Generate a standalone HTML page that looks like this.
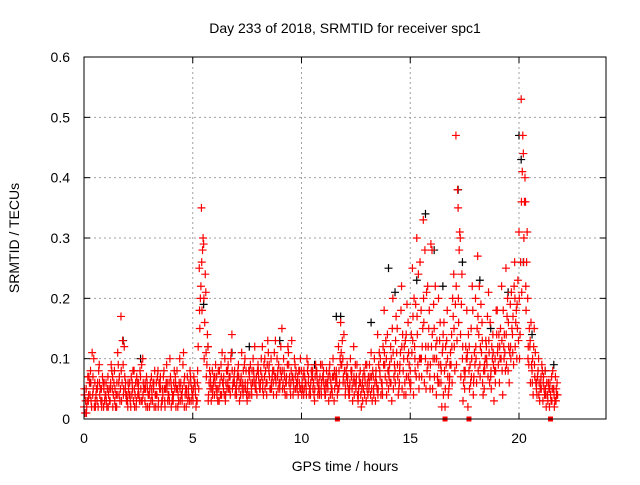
<!DOCTYPE html>
<html><head><meta charset="utf-8"><style>
body{margin:0;background:#fff}
svg text{font-family:"Liberation Sans",sans-serif;font-size:14px;fill:#000}
</style></head><body>
<svg id="chart" width="640" height="480" viewBox="0 0 640 480" xmlns="http://www.w3.org/2000/svg">
<text x="345" y="33" text-anchor="middle">Day 233 of 2018, SRMTID for receiver spc1</text>
<text transform="translate(19,238) rotate(-90)" text-anchor="middle">SRMTID / TECUs</text>
<text x="345" y="471" text-anchor="middle">GPS time / hours</text>
<g id="grid"></g><g id="ticks"></g><g id="black"></g><g id="red"></g>
<rect x="84" y="57" width="522" height="362" fill="none" stroke="#000" stroke-width="1"/>
</svg>
<script>
const xTicks=[0,5,10,15,20];
const yTicks=[0,0.1,0.2,0.3,0.4,0.5,0.6];
const yTickLabels=["0","0.1","0.2","0.3","0.4","0.5","0.6"];
const red1=[0.02,0.05,0.03,0.08,0.04,0.06,0.03,0.09,0.05,0.02,
0.04,0.07,0.03,0.05,0.08,0.02,0.06,0.17,0.09,0.05,
0.03,0.06,0.04,0.08,0.02,0.05,0.07,0.10,0.03,0.06,
0.04,0.07,0.05,0.02,0.08,0.06,0.03,0.05,0.09,0.04,
0.06,0.03,0.07,0.05,0.10,0.04,0.06,0.02,0.05,0.07,
0.04,0.06,0.03,0.25,0.35,0.29,0.21,0.12,0.05,0.08,
0.04,0.07,0.05,0.09,0.06,0.03,0.08,0.05,0.14,0.07,
0.05,0.09,0.04,0.06,0.10,0.03,0.07,0.05,0.08,0.06,
0.09,0.05,0.12,0.07,0.04,0.08,0.10,0.06,0.13,0.07,
0.05,0.15,0.08,0.06,0.11,0.04,0.07,0.09,0.05,0.06,
0.08,0.04,0.06,0.09,0.05,0.07,0.03,0.08,0.06,0.05,
0.07,0.04,0.06,0.09,0.05,0.03,0.08,0.12,0.16,0.10,
0.06,0.09,0.04,0.07,0.12,0.05,0.03,0.08,0.06,0.04,
0.09,0.05,0.11,0.07,0.03,0.14,0.08,0.06,0.18,0.10,
0.05,0.12,0.20,0.08,0.15,0.06,0.22,0.10,0.04,0.16,
0.08,0.25,0.12,0.30,0.05,0.18,0.33,0.10,0.22,0.07,
0.28,0.15,0.04,0.20,0.09,0.12,0.02,0.18,0.06,0.14,
0.24,0.47,0.35,0.30,0.10,0.05,0.18,0.08,0.15,0.04,
0.20,0.27,0.09,0.16,0.05,0.12,0.21,0.07,0.14,0.10,
0.18,0.06,0.22,0.12,0.25,0.08,0.19,0.14,0.26,0.10,
0.31,0.53,0.44,0.36,0.20,0.12,0.08,0.15,0.05,0.10,
0.06,0.03,0.08,0.04,0.02,0.07,0.05,0.03];
const red2=[0.01,0.03,0.06,0.02,0.10,0.04,0.02,0.05,0.07,0.03,
0.02,0.05,0.09,0.04,0.02,0.11,0.03,0.06,0.12,0.03,
0.05,0.02,0.08,0.04,0.06,0.03,0.09,0.05,0.02,0.04,
0.06,0.03,0.08,0.04,0.06,0.02,0.07,0.05,0.03,0.10,
0.03,0.08,0.05,0.03,0.06,0.09,0.04,0.07,0.03,0.05,
0.07,0.02,0.12,0.20,0.28,0.16,0.09,0.06,0.03,0.06,
0.09,0.03,0.06,0.11,0.04,0.08,0.05,0.10,0.06,0.04,
0.07,0.03,0.11,0.05,0.08,0.04,0.09,0.06,0.12,0.04,
0.06,0.10,0.04,0.08,0.13,0.05,0.07,0.11,0.04,0.09,
0.12,0.06,0.04,0.09,0.07,0.13,0.05,0.08,0.04,0.10,
0.05,0.07,0.10,0.04,0.08,0.06,0.09,0.04,0.07,0.09,
0.05,0.08,0.03,0.06,0.10,0.07,0.04,0.06,0.09,0.14,
0.08,0.05,0.10,0.03,0.06,0.09,0.07,0.02,0.05,0.09,
0.04,0.07,0.03,0.10,0.06,0.09,0.04,0.12,0.07,0.14,
0.09,0.03,0.07,0.17,0.04,0.11,0.14,0.06,0.19,0.09,
0.14,0.04,0.19,0.09,0.26,0.12,0.06,0.21,0.15,0.29,
0.10,0.22,0.07,0.13,0.02,0.16,0.09,0.04,0.11,0.20,
0.08,0.13,0.28,0.19,0.06,0.12,0.02,0.09,0.22,0.11,
0.06,0.14,0.19,0.04,0.10,0.17,0.06,0.12,0.03,0.18,
0.09,0.15,0.04,0.11,0.17,0.06,0.21,0.09,0.16,0.23,
0.14,0.41,0.36,0.26,0.09,0.16,0.04,0.11,0.07,0.03,
0.09,0.05,0.02,0.06,0.04,0.08,0.03,0.06];
const red3=[0.04,0.02,0.07,0.03,0.05,0.02,0.06,0.04,0.03,0.06,
0.03,0.04,0.06,0.02,0.05,0.04,0.07,0.03,0.05,0.04,
0.06,0.03,0.05,0.02,0.07,0.04,0.03,0.06,0.05,0.02,
0.05,0.04,0.02,0.06,0.03,0.05,0.04,0.02,0.06,0.03,
0.05,0.06,0.02,0.04,0.03,0.05,0.07,0.04,0.06,0.03,
0.05,0.04,0.08,0.15,0.18,0.10,0.07,0.04,0.06,0.05,
0.06,0.05,0.08,0.04,0.07,0.06,0.09,0.04,0.05,0.08,
0.06,0.05,0.07,0.08,0.05,0.06,0.04,0.08,0.06,0.07,
0.07,0.08,0.06,0.05,0.09,0.07,0.05,0.08,0.06,0.05,
0.08,0.05,0.07,0.04,0.06,0.08,0.06,0.05,0.07,0.05,
0.06,0.05,0.04,0.07,0.06,0.05,0.07,0.06,0.04,0.06,
0.06,0.05,0.07,0.04,0.07,0.05,0.06,0.08,0.11,0.07,
0.05,0.07,0.06,0.05,0.04,0.07,0.05,0.04,0.07,0.06,
0.06,0.09,0.05,0.04,0.08,0.05,0.10,0.04,0.09,0.06,
0.07,0.10,0.05,0.13,0.07,0.09,0.05,0.12,0.07,0.11,
0.06,0.17,0.08,0.14,0.10,0.07,0.16,0.05,0.12,0.09,
0.05,0.10,0.13,0.06,0.08,0.04,0.12,0.07,0.09,0.06,
0.12,0.09,0.16,0.07,0.03,0.08,0.11,0.05,0.10,0.07,
0.10,0.08,0.12,0.06,0.08,0.09,0.11,0.05,0.09,0.08,
0.12,0.10,0.08,0.14,0.09,0.12,0.10,0.17,0.12,0.15,
0.10,0.21,0.30,0.18,0.12,0.06,0.10,0.07,0.04,0.06,
0.05,0.07,0.04,0.03,0.06,0.05,0.02,0.04];
const red4=[0.03,0.07,0.04,0.11,0.02,0.05,0.08,0.03,0.06,0.04,
0.05,0.03,0.08,0.06,0.04,0.09,0.05,0.13,0.07,0.04,
0.04,0.07,0.03,0.06,0.04,0.08,0.03,0.05,0.07,0.04,
0.03,0.06,0.04,0.07,0.05,0.03,0.08,0.06,0.04,0.07,
0.04,0.05,0.08,0.06,0.04,0.11,0.05,0.03,0.08,0.04,
0.06,0.03,0.05,0.22,0.30,0.24,0.14,0.08,0.05,0.07,
0.05,0.08,0.04,0.06,0.10,0.05,0.07,0.11,0.06,0.05,
0.08,0.06,0.05,0.09,0.04,0.08,0.06,0.10,0.05,0.08,
0.05,0.07,0.09,0.06,0.11,0.05,0.08,0.07,0.10,0.06,
0.07,0.10,0.06,0.12,0.05,0.07,0.10,0.06,0.08,0.05,
0.07,0.06,0.08,0.05,0.07,0.04,0.08,0.05,0.09,0.07,
0.04,0.06,0.08,0.05,0.07,0.06,0.05,0.10,0.13,0.08,
0.07,0.04,0.08,0.06,0.09,0.04,0.06,0.05,0.08,0.03,
0.07,0.04,0.08,0.06,0.05,0.11,0.06,0.09,0.13,0.08,
0.06,0.15,0.09,0.11,0.05,0.18,0.08,0.13,0.10,0.06,
0.11,0.20,0.07,0.24,0.10,0.15,0.28,0.08,0.18,0.12,
0.19,0.12,0.06,0.16,0.11,0.08,0.13,0.05,0.09,0.17,
0.19,0.38,0.31,0.24,0.08,0.10,0.14,0.06,0.18,0.09,
0.15,0.22,0.11,0.08,0.13,0.07,0.16,0.10,0.08,0.14,
0.14,0.10,0.18,0.08,0.20,0.11,0.15,0.22,0.18,0.13,
0.26,0.47,0.40,0.31,0.15,0.09,0.12,0.06,0.08,0.05,
0.08,0.04,0.06,0.05,0.03,0.05,0.07,0.04];
const red5=[0.05,0.01,0.04,0.06,0.07,0.03,0.05,0.06,0.02,0.05,
0.06,0.02,0.05,0.07,0.03,0.06,0.04,0.08,0.04,0.06,
0.02,0.04,0.06,0.05,0.03,0.06,0.05,0.04,0.06,0.05,
0.02,0.05,0.06,0.04,0.02,0.07,0.05,0.03,0.05,0.06,
0.02,0.04,0.06,0.02,0.05,0.03,0.02,0.05,0.04,0.06,
0.03,0.05,0.06,0.18,0.26,0.20,0.11,0.03,0.07,0.04,
0.07,0.04,0.03,0.07,0.05,0.04,0.06,0.07,0.08,0.06,
0.04,0.07,0.06,0.04,0.06,0.05,0.08,0.04,0.07,0.05,
0.08,0.06,0.05,0.10,0.06,0.09,0.06,0.04,0.07,0.08,
0.06,0.08,0.05,0.07,0.09,0.06,0.04,0.07,0.06,0.08,
0.04,0.08,0.05,0.06,0.04,0.08,0.05,0.07,0.05,0.04,
0.08,0.06,0.05,0.07,0.04,0.08,0.07,0.05,0.09,0.06,
0.04,0.06,0.05,0.08,0.07,0.06,0.04,0.06,0.03,0.07,
0.05,0.06,0.07,0.05,0.07,0.04,0.07,0.05,0.11,0.04,
0.08,0.06,0.11,0.06,0.09,0.08,0.12,0.04,0.14,0.07,
0.05,0.13,0.10,0.17,0.07,0.10,0.20,0.12,0.09,0.05,
0.14,0.07,0.10,0.09,0.06,0.14,0.05,0.10,0.07,0.12,
0.15,0.22,0.20,0.14,0.12,0.07,0.10,0.12,0.07,0.06,
0.12,0.17,0.07,0.13,0.09,0.10,0.13,0.08,0.11,0.06,
0.11,0.12,0.13,0.10,0.14,0.16,0.12,0.11,0.20,0.19,
0.20,0.36,0.26,0.22,0.10,0.13,0.06,0.09,0.06,0.04,
0.07,0.06,0.05,0.04,0.05,0.03,0.04,0.05];
const blackT=[0.3,1.8,2.6,5.5,5.7,6.8,7.6,9.0,10.6,11.6,11.8,13.2,14.0,14.3,15.3,15.7,16.1,16.5,17.2,17.4,18.2,18.7,19.5,20.0,20.1,20.2,20.6,21.2,21.6];
const blackV=[0.06,0.13,0.10,0.19,0.12,0.11,0.12,0.13,0.09,0.17,0.17,0.16,0.25,0.21,0.23,0.34,0.28,0.22,0.38,0.26,0.23,0.15,0.21,0.47,0.43,0.26,0.14,0.08,0.09];
const gapT=[11.65,16.6,17.7,21.45];
const NS="http://www.w3.org/2000/svg";
function X(v){return 84+v*21.75}
function Y(v){return 419-v*603.3}
function mk(tag,attrs,parent){const e=document.createElementNS(NS,tag);for(const k in attrs)e.setAttribute(k,attrs[k]);parent.appendChild(e);return e;}
const grid=document.getElementById('grid'),ticks=document.getElementById('ticks');
xTicks.forEach(t=>{
  if(t>0){const g=mk('line',{x1:X(t),x2:X(t),y1:57,y2:419,stroke:'#a0a0a0','stroke-dasharray':'2,3'},grid);
  
  }
  const l=mk('text',{x:X(t),y:443,'text-anchor':'middle'},ticks);l.textContent=t;
  
  
  mk('line',{x1:X(t),x2:X(t),y1:419,y2:413,stroke:'#000'},ticks);
  mk('line',{x1:X(t),x2:X(t),y1:57,y2:63,stroke:'#000'},ticks);
});
yTicks.forEach((t,i)=>{
  if(i>0&&i<yTicks.length-1){const g=mk('line',{x1:84,x2:606,y1:Y(t),y2:Y(t),stroke:'#a0a0a0','stroke-dasharray':'2,3'},grid);
  
  }
  const l=mk('text',{x:70,y:Y(t)+5,'text-anchor':'end'},ticks);l.textContent=yTickLabels[i];
  
  
  mk('line',{x1:84,x2:90,y1:Y(t),y2:Y(t),stroke:'#000'},ticks);
  mk('line',{x1:606,x2:600,y1:Y(t),y2:Y(t),stroke:'#000'},ticks);
});
function plus(x,y,color,parent,name){
  const p=mk('path',{d:`M${x-4},${y}h8M${x},${y-4}v8`,stroke:color,'stroke-width':1.2,fill:'none'},parent);
  
  
}
const bg=document.getElementById('black'),rg=document.getElementById('red');
blackT.forEach((t,i)=>plus(X(t),Y(blackV[i]),'#000',bg,'black-point'));
red1.forEach((v,i)=>plus(X(i*0.1),Y(v),'#f00',rg,'red-point'));
red2.forEach((v,i)=>plus(X(i*0.1+0.05),Y(v),'#f00',rg,'red-point'));
red3.forEach((v,i)=>plus(X(i*0.1+0.025),Y(v),'#f00',rg,'red-point'));
red4.forEach((v,i)=>plus(X(i*0.1+0.075),Y(v),'#f00',rg,'red-point'));
red5.forEach((v,i)=>plus(X(i*0.1+0.0125),Y(v),'#f00',rg,'red-point'));
gapT.forEach(t=>{const r=mk('rect',{x:X(t)-2.5,y:416.5,width:5,height:5,fill:'#f00'},rg);
  
  });
</script>
</body></html>
